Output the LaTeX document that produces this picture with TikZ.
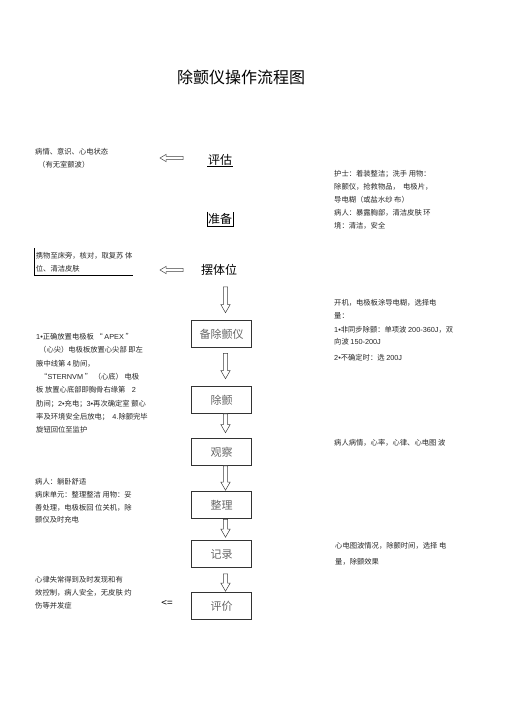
\documentclass[tikz,border=0pt]{standalone}
\usepackage{fontspec}
\setmainfont{Noto Sans CJK SC}
\newfontfamily\latf{Liberation Sans}
\newcommand{\bul}{{\latf •}}
\usetikzlibrary{calc}
\begin{document}
\begin{tikzpicture}[x=1pt,y=-1pt,
  smalltext/.style={font=\fontsize{7.3}{13.2}\selectfont, align=left, inner sep=0pt, anchor=north west, text=black!85},
  flowbox/.style={draw=black!80, line width=0.6pt, minimum width=60pt, minimum height=27pt, inner sep=0pt, text depth=0pt, font=\fontsize{11}{13}\selectfont, text=black!60},
  stagelabel/.style={font=\fontsize{12}{14}\selectfont, inner sep=0pt, text=black},
  hollowdown/.style={draw=black!75, line width=0.5pt, fill=white,
    to path={let \p1=(\tikztostart), \p2=(\tikztotarget) in
      (\x1-2.2pt,\y1) -- (\x1-2.2pt,\y2+8pt) -- (\x1-4.6pt,\y2+8pt) -- (\x1,\y2) -- (\x1+4.6pt,\y2+8pt) -- (\x1+2.2pt,\y2+8pt) -- (\x1+2.2pt,\y1) -- cycle}},
  hollowleft/.style={draw=black!75, line width=0.5pt, fill=white,
    to path={let \p1=(\tikztostart), \p2=(\tikztotarget) in
      (\x1,\y1+1.6pt) -- (\x2+6pt,\y1+1.6pt) -- (\x2+6pt,\y1+3.6pt) -- (\x2,\y1) -- (\x2+6pt,\y1-3.6pt) -- (\x2+6pt,\y1-1.6pt) -- (\x1,\y1-1.6pt) -- cycle}}
]
\useasboundingbox (0,0) rectangle (505,714);

% title
\node[font=\fontsize{16}{18}\selectfont, inner sep=0pt] (title) at (241,77) {除颤仪操作流程图};

% stages at top
\node[stagelabel] (pg) at (220,159.5) {评估};
\draw[line width=0.6pt] ($(pg.south west)+(-0.5,1)$) -- ($(pg.south east)+(0.5,1)$);
\node[stagelabel, minimum width=25.5pt, minimum height=14pt] (zb) at (220,218.7) {准备};
\draw[line width=0.6pt] (zb.north west) |- (zb.south east) -- (zb.north east);
\node[stagelabel] (bt) at (219,270) {摆体位};

% left hollow arrows
\coordinate (l1s) at (183,158);
\coordinate (l1e) at (160,158);
\coordinate (l2s) at (183,270);
\coordinate (l2e) at (160,270);
\draw[hollowleft] (l1s) to (l1e);
\draw[hollowleft] (l2s) to (l2e);

% flow boxes
\node[flowbox] (b1) at (221.5,333.5) {备除颤仪};
\node[flowbox] (b2) at (221.5,399.5) {除颤};
\node[flowbox] (b3) at (221.5,451.5) {观察};
\node[flowbox] (b4) at (221.5,505) {整理};
\node[flowbox] (b5) at (221.5,554) {记录};
\node[flowbox] (b6) at (221.5,606) {评价};

% down arrows
\draw[hollowdown] ($(bt.south)+(6.5,11)$) to ($(b1.north)+(4,-7)$);
\draw[hollowdown] ($(b1.south)+(4,6)$) to ($(b2.north)+(4,-7)$);
\draw[hollowdown] ($(b2.south)+(4,0.5)$) to ($(b3.north)+(4,-5)$);
\draw[hollowdown] ($(b3.south)+(4,0.5)$) to ($(b4.north)+(4,-1)$);
\draw[hollowdown] ($(b4.south)+(4,0.5)$) to ($(b5.north)+(4,-3)$);
\draw[hollowdown] ($(b5.south)+(4,6)$) to ($(b6.north)+(4,-1)$);

\node[font=\fontsize{10}{12}\selectfont, inner sep=0pt] (le) at (167,604) {<=};

% texts
\node[smalltext] (t1) at (35,148) {病情、意识、心电状态\\\hspace{3pt}（有无室颤波）};
\node[smalltext] (t2) at (35.7,252.3) {携物至床旁，核对，取复苏 体\\位、清洁皮肤};
\draw[line width=0.6pt] ($(t2.north west)+(-1.4,-4.3)$) |- ($(t2.north west)+(97,22.8)$);
\node[smalltext, font=\fontsize{7.3}{13}\selectfont] (t3) at (334,170.3) {护士：着装整洁；洗手 用物：\\除颤仪，抢救物品，\ \ 电极片，\\导电糊（或盐水纱 布）\\病人：暴露胸部，清洁皮肤 环\\境：清洁，安全};
\node[smalltext, font=\fontsize{7.3}{13.3}\selectfont] (t4) at (36,333.3) {{\latf 1}\bul 正确放置电极板 “ {\latf APEX} ”\\\hspace{3pt}（心尖）电极板放置心尖部 即左\\腋中线第 {\latf 4} 肋间，\\\hspace{4pt}“{\latf STERNVM} ” （心底） 电极\\板 放置心底部即胸骨右缘第\ \ \ \ {\latf 2}\\肋间；{\latf 2}\bul 充电；{\latf 3}\bul 再次确定室 颤心\\率及环境安全后放电；\ \ {\latf 4.}除颤完毕\\旋钮回位至监护};
\node[smalltext, font=\fontsize{7.3}{12.5}\selectfont] (t5) at (334,299.3) {开机，电极板涂导电糊，选择电\\量：\\[1.5pt]{\latf 1}\bul 非同步除颤：单项波 {\latf 200-360J}，双\\向波 {\latf 150-200J}\\[3.5pt]{\latf 2}\bul 不确定时：选 {\latf 200J}};
\node[smalltext] (t6) at (334,439.3) {病人病情，心率，心律、心电图 波};
\node[smalltext, font=\fontsize{7.3}{12.7}\selectfont] (t7) at (35,478.3) {病人：躺卧舒适\\病床单元：整理整洁 用物：妥\\善处理，电极板回 位关机，除\\颤仪及时充电};
\node[smalltext, font=\fontsize{7.3}{13}\selectfont] (t8) at (35,576.3) {心律失常得到及时发现和有\\效控制，病人安全，无皮肤 灼\\伤等并发症};
\node[smalltext, font=\fontsize{7.3}{13}\selectfont] (t9) at (335,542.3) {心电图波情况，除颤时间，选择 电\\[3pt]量，除颤效果};
\end{tikzpicture}
\end{document}
